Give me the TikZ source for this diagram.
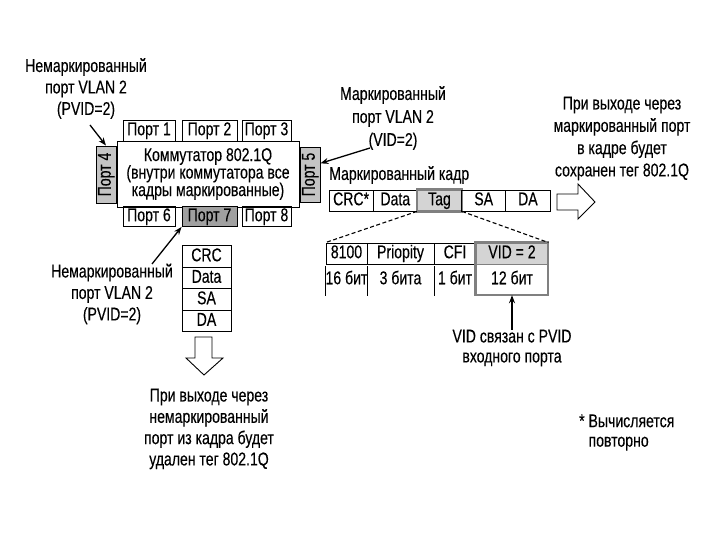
\documentclass[tikz,border=0pt]{standalone}
\usepackage{fontspec}
\setmainfont{Liberation Sans}[FakeStretch=0.76,FakeBold=0.25]
\usetikzlibrary{arrows.meta,calc}
\definecolor{lgray}{HTML}{C4C4C4}
\definecolor{dgray}{HTML}{A0A0A0}
\definecolor{tgray}{HTML}{D4D4D4}
\definecolor{bgray}{HTML}{808080}
\begin{document}
\begin{tikzpicture}[x=1pt,y=-1pt,
  font=\fontsize{18.5}{21}\selectfont,
  box/.style={draw, line width=0.9pt, inner sep=0pt, anchor=center, minimum height=#1,
    text height=13pt, text depth=3.5pt},
  box/.default=21pt,
  cell/.style={inner sep=0pt, anchor=center, text height=13pt, text depth=3.5pt},
  lbl/.style={align=center, inner sep=0pt},
  ptr/.style={-{Stealth[length=8pt,width=6pt]}, line width=1.3pt},
  hollow/.style={draw, line width=0.9pt, fill=white}]
\useasboundingbox (0,0) rectangle (720,540);

% ---- switch ----
\node[box, minimum width=52pt] (p1) at (149,130.5) {Порт 1};
\node[box, minimum width=55pt] (p2) at (209.5,130.5) {Порт 2};
\node[box, minimum width=49pt] (p3) at (266.5,130.5) {Порт 3};
\node[draw, line width=0.9pt, inner sep=0pt, minimum height=66pt, minimum width=182pt, align=center,
  font=\fontsize{18.5}{17.5}\selectfont] (sw) at (208,174)
  {Коммутатор 802.1Q\\(внутри коммутатора все\\кадры маркированные)};
\node[box=20pt, minimum width=52pt] (p6) at (149,216.5) {Порт 6};
\node[box=20pt, minimum width=55pt, fill=dgray] (p7) at (209.5,216.5) {Порт 7};
\node[box=20pt, minimum width=49pt] (p8) at (266.5,216.5) {Порт 8};
\node[box=20pt, minimum width=57pt, fill=lgray, rotate=90] (p4) at (106,174.5) {Порт 4};
\node[box=20pt, minimum width=55pt, fill=lgray, rotate=90] (p5) at (310,174.5) {Порт 5};

% ---- labels with pointers ----
\node[lbl, font=\fontsize{18.5}{21.5}\selectfont] (l1) at (86,88.5) {Немаркированный\\порт VLAN 2\\(PVID=2)};
\coordinate (a1) at (90,125);
\draw[ptr] (a1) -- (p4.east);

\node[lbl, font=\fontsize{18.5}{23}\selectfont] (l2) at (393,118) {Маркированный\\порт VLAN 2\\(VID=2)};
\coordinate (a2) at (370,148);
\draw[ptr] (a2) -- ($(p5.south)!0.4!(p5.south east)$);

\node[lbl, font=\fontsize{18.5}{21.5}\selectfont] (l3) at (112,294) {Немаркированный\\порт VLAN 2\\(PVID=2)};
\coordinate (a3) at (152,264);
\draw[ptr] (a3) -- (p7.south west);

% ---- tagged frame ----
\node[anchor=west, inner sep=0pt] (fl) at (329,175) {Маркированный кадр};
\node[box, minimum width=44.2pt] (crc) at (351.1,200.5) {CRC*};
\node[box, minimum width=44.2pt] (dat) at (395.3,200.5) {Data};
\node[box, minimum width=44.2pt, fill=tgray] (tag) at (439.5,200.5) {Tag};
\draw[bgray, line width=2.2pt] (tag.south west) rectangle (tag.north east);
\node[box, minimum width=44.2pt] (sa) at (483.7,200.5) {SA};
\node[box, minimum width=44.2pt] (da) at (527.9,200.5) {DA};

% right hollow arrow
\draw[hollow] (557,194) -- (578,194) -- (578,184) -- (595,202) -- (578,219) -- (578,210) -- (557,210) -- cycle;
\node[lbl, font=\fontsize{18.5}{22.3}\selectfont] (l4) at (622,138.5) {При выходе через\\маркированный порт\\в кадре будет\\сохранен тег 802.1Q};

% ---- tag detail ----
\node[box, minimum width=41pt] (t1) at (346.5,253.5) {8100};
\node[box, minimum width=67pt] (t2) at (400.5,253.5) {Priopity};
\node[box, minimum width=42pt] (t3) at (455,253.5) {CFI};
\node[box, minimum width=72pt, fill=tgray] (t4) at (512,253.5) {VID = 2};
\node[cell, minimum width=41pt, minimum height=26pt] (b1) at (346.5,279.5) {16 бит};
\node[cell, minimum width=67pt, minimum height=26pt] (b2) at (400.5,279.5) {3 бита};
\node[cell, minimum width=42pt, minimum height=26pt] (b3) at (455,279.5) {1 бит};
\node[cell, minimum width=72pt, minimum height=31pt] (b4) at (512,279.5) {12 бит};
\draw[line width=0.9pt] (b1.north west) -- ([yshift=-3pt]b1.south west)
  (b1.north east) -- ([yshift=-3pt]b1.south east)
  (b2.north east) -- ([yshift=-3pt]b2.south east);
\draw[bgray, line width=2.4pt] (t4.north west) rectangle (b4.south east);
\draw[bgray, line width=1.2pt] (t4.south west) -- (t4.south east);

\draw[dashed, line width=1.1pt, dash pattern=on 4pt off 2.5pt] (tag.south west) -- (t1.north west);
\draw[dashed, line width=1.1pt, dash pattern=on 4pt off 2.5pt] (tag.south east) -- (t4.north east);

\node[lbl, font=\fontsize{18.5}{20}\selectfont] (l5) at (512,348) {VID связан с PVID\\входного порта};
\draw[ptr] (l5.north) -- (b4.south);

% ---- untagged frame ----
\node[box=21.5pt, minimum width=49pt] (u1) at (206.5,256.5) {CRC};
\node[box=21.5pt, minimum width=49pt] (u2) at (206.5,278) {Data};
\node[box=21.5pt, minimum width=49pt] (u3) at (206.5,299.5) {SA};
\node[box=21.5pt, minimum width=49pt] (u4) at (206.5,321) {DA};
\draw[hollow] (195,337) -- (212,337) -- (212,358) -- (223,358) -- (204,375) -- (186,358) -- (195,358) -- cycle;
\node[lbl, font=\fontsize{18.5}{21.3}\selectfont] (l6) at (209,429) {При выходе через\\немаркированный\\порт из кадра будет\\удален тег 802.1Q};

% ---- footnote ----
\node[anchor=west, align=left, inner sep=0pt, font=\fontsize{18.5}{19.5}\selectfont] (fn) at (579,432.5) {* Вычисляется\\\hphantom{* }повторно};
\end{tikzpicture}
\end{document}
